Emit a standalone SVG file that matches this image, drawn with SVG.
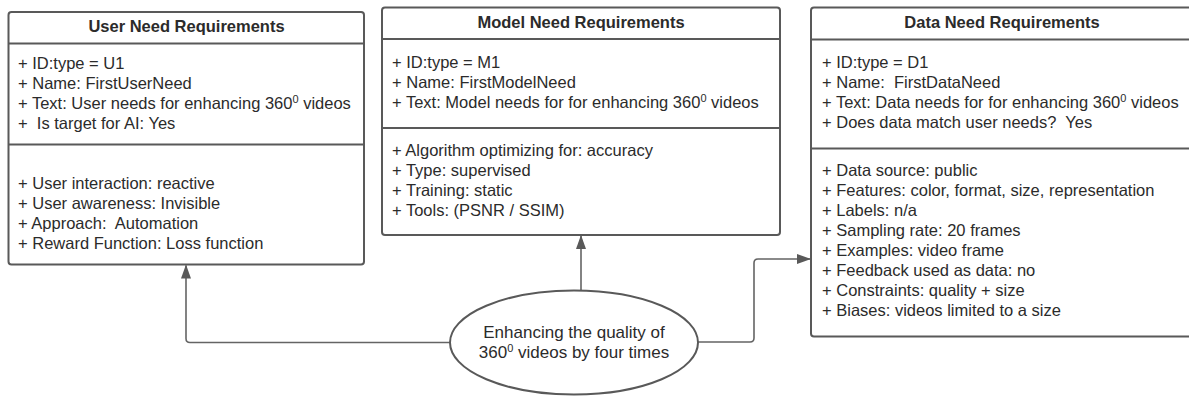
<svg xmlns="http://www.w3.org/2000/svg" width="1189" height="397" viewBox="0 0 1189 397">
  <style>
    .box { fill: #ffffff; stroke: #595959; stroke-width: 2; }
    .div { stroke: #595959; stroke-width: 2; }
    .title { font-family: "Liberation Sans", Arial, sans-serif; font-size: 16.5px; font-weight: bold; fill: #2b2b2b; text-anchor: middle; }
    .attr { font-family: "Liberation Sans", Arial, sans-serif; font-size: 16.5px; fill: #2b2b2b; }
    .sup { font-size: 11px; }
    .conn { fill: none; stroke: #646464; stroke-width: 1.6; stroke-linejoin: round; }
    .label { font-family: "Liberation Sans", Arial, sans-serif; font-size: 17px; fill: #2b2b2b; text-anchor: middle; }
  </style>
  <defs>
    <marker id="arrow" viewBox="0 0 14 10" refX="13" refY="5" markerWidth="14" markerHeight="10" markerUnits="userSpaceOnUse" orient="auto">
      <path d="M0,0 L14,5 L0,10 Z" fill="#595959"/>
    </marker>
  </defs>

  <!-- connectors from the goal ellipse to the three requirement classes -->
  <g id="connectors">
    <path class="conn" d="M451,342.5 H190 Q186,342.5 186,338.5 V265.5" marker-end="url(#arrow)"/>
    <path class="conn" d="M581,290 V236" marker-end="url(#arrow)"/>
    <path class="conn" d="M698,342 H750 Q754,342 754,338 V263 Q754,259 758,259 H810" marker-end="url(#arrow)"/>
  </g>

  <!-- User Need Requirements -->
  <g id="user-need">
    <rect class="box" x="8.5" y="12" width="355.5" height="252.5" rx="3"/>
    <line class="div" x1="8.5" y1="43.5" x2="364" y2="43.5"/>
    <line class="div" x1="8.5" y1="144.5" x2="364" y2="144.5"/>
    <text class="title" x="186.5" y="31.5">User Need Requirements</text>
    <text class="attr" x="18" y="69">+ ID:type = U1</text>
    <text class="attr" x="18" y="89">+ Name: FirstUserNeed</text>
    <text class="attr" x="18" y="109">+ Text: User needs for enhancing 360<tspan class="sup" dy="-6">0</tspan><tspan dy="6"> videos</tspan></text>
    <text class="attr" x="18" y="129" xml:space="preserve">+  Is target for AI: Yes</text>
    <text class="attr" x="18" y="189">+ User interaction: reactive</text>
    <text class="attr" x="18" y="209">+ User awareness: Invisible</text>
    <text class="attr" x="18" y="229" xml:space="preserve">+ Approach:  Automation</text>
    <text class="attr" x="18" y="248.5">+ Reward Function: Loss function</text>
  </g>

  <!-- Model Need Requirements -->
  <g id="model-need">
    <rect class="box" x="382" y="7.5" width="398" height="227.5" rx="3"/>
    <line class="div" x1="382" y1="39" x2="780" y2="39"/>
    <line class="div" x1="382" y1="128" x2="780" y2="128"/>
    <text class="title" x="581" y="27.5">Model Need Requirements</text>
    <text class="attr" x="392" y="68">+ ID:type = M1</text>
    <text class="attr" x="392" y="88">+ Name: FirstModelNeed</text>
    <text class="attr" x="392" y="108">+ Text: Model needs for for enhancing 360<tspan class="sup" dy="-6">0</tspan><tspan dy="6"> videos</tspan></text>
    <text class="attr" x="392" y="156">+ Algorithm optimizing for: accuracy</text>
    <text class="attr" x="392" y="176">+ Type: supervised</text>
    <text class="attr" x="392" y="196">+ Training: static</text>
    <text class="attr" x="392" y="216">+ Tools: (PSNR / SSIM)</text>
  </g>

  <!-- Data Need Requirements -->
  <g id="data-need">
    <rect class="box" x="811" y="7.5" width="381" height="329" rx="3"/>
    <line class="div" x1="811" y1="39.5" x2="1192" y2="39.5"/>
    <line class="div" x1="811" y1="148.5" x2="1192" y2="148.5"/>
    <text class="title" x="1002" y="27.5">Data Need Requirements</text>
    <text class="attr" x="822" y="68">+ ID:type = D1</text>
    <text class="attr" x="822" y="88" xml:space="preserve">+ Name:  FirstDataNeed</text>
    <text class="attr" x="822" y="108">+ Text: Data needs for for enhancing 360<tspan class="sup" dy="-6">0</tspan><tspan dy="6"> videos</tspan></text>
    <text class="attr" x="822" y="128" xml:space="preserve">+ Does data match user needs?  Yes</text>
    <text class="attr" x="822" y="176">+ Data source: public</text>
    <text class="attr" x="822" y="196">+ Features: color, format, size, representation</text>
    <text class="attr" x="822" y="216">+ Labels: n/a</text>
    <text class="attr" x="822" y="236">+ Sampling rate: 20 frames</text>
    <text class="attr" x="822" y="256">+ Examples: video frame</text>
    <text class="attr" x="822" y="276">+ Feedback used as data: no</text>
    <text class="attr" x="822" y="296">+ Constraints: quality + size</text>
    <text class="attr" x="822" y="316">+ Biases: videos limited to a size</text>
  </g>

  <!-- Goal -->
  <g id="goal">
    <ellipse class="box" cx="574" cy="342.5" rx="124" ry="52"/>
    <text class="label" x="574" y="338">Enhancing the quality of</text>
    <text class="label" x="574" y="358">360<tspan class="sup" dy="-6">0</tspan><tspan dy="6"> videos by four times</tspan></text>
  </g>
</svg>
